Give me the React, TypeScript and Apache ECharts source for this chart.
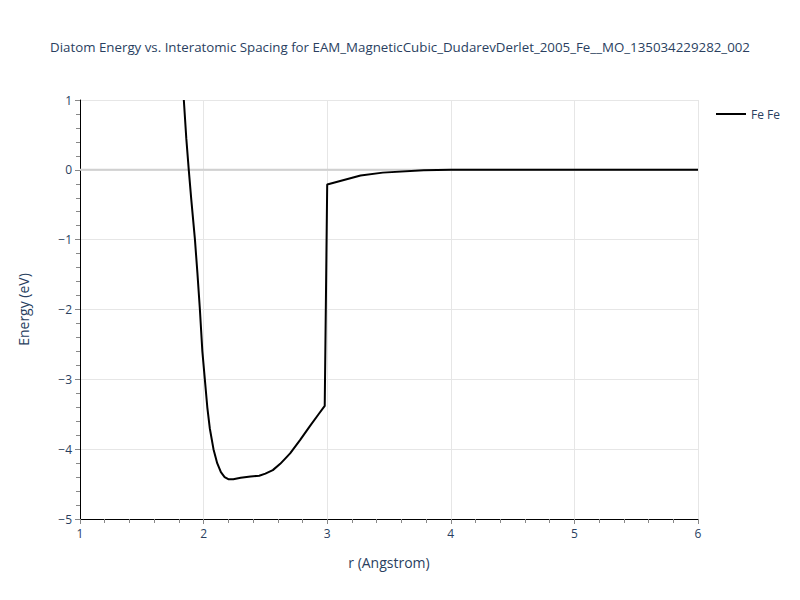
import { useEffect, useRef } from 'react'
import * as echarts from 'echarts'

// r (Angstrom) and energy (eV)
const rValues = [
  1.84, 1.86, 1.88, 1.9, 1.93, 1.95, 1.97, 1.99, 2.01, 2.03, 2.05, 2.08, 2.11, 2.14, 2.17, 2.2,
  2.24, 2.3, 2.38, 2.45, 2.5, 2.56, 2.62, 2.7, 2.78, 2.86, 2.93, 2.98, 3.0, 3.27, 3.45, 3.78,
  4.0, 4.5, 5.0, 5.5, 6.0,
]
const energyValues = [
  1.0, 0.45, 0.0, -0.42, -1.0, -1.48, -2.0, -2.6, -3.0, -3.4, -3.7, -4.0, -4.2, -4.33, -4.4, -4.43,
  -4.43, -4.41, -4.39, -4.38, -4.35, -4.3, -4.21, -4.06, -3.87, -3.67, -3.5, -3.38, -0.21, -0.08,
  -0.04, -0.005, 0, 0, 0, 0, 0,
]
const zeroLine = [
  [1, 0],
  [6, 0],
]

const TITLE =
  'Diatom Energy vs. Interatomic Spacing for EAM_MagneticCubic_DudarevDerlet_2005_Fe__MO_135034229282_002'
const SERIES_NAME = 'Fe Fe'
const FONT = '"Open Sans", "Liberation Sans", sans-serif'
const TEXT_COLOR = '#2a3f5f'

const minus = (v: number) => String(v).replace('-', '\u2212')

export default function App() {
  const ref = useRef<HTMLDivElement>(null)

  useEffect(() => {
    if (!ref.current) {
      return
    }
    const chart = echarts.init(ref.current, undefined, { renderer: 'svg' })
    const axisCommon = {
      nameLocation: 'middle' as const,
      nameTextStyle: { fontFamily: FONT, fontSize: 14, color: TEXT_COLOR },
      axisLine: { show: true, onZero: false, lineStyle: { color: '#000', width: 1 } },
      axisTick: { show: true, length: 5, lineStyle: { color: '#888' } },
      minorTick: { show: true, splitNumber: 5, length: 4, lineStyle: { color: '#888' } },
      axisLabel: { fontFamily: FONT, fontSize: 12, color: TEXT_COLOR, formatter: minus },
      splitLine: { show: true, lineStyle: { color: '#e6e6e6', width: 1 } },
    }

    chart.setOption({
      animation: false,
      title: {
        text: TITLE,
        left: 'center',
        top: 27,
        textStyle: { fontFamily: FONT, fontSize: 13.3, fontWeight: 'normal', color: TEXT_COLOR },
      },
      legend: {
        data: [SERIES_NAME],
        left: 703,
        top: 95,
        orient: 'vertical',
        itemWidth: 30,
        itemHeight: 2,
        itemGap: 6,
        icon: 'rect',
        textStyle: { fontFamily: FONT, fontSize: 12, color: TEXT_COLOR },
      },
      grid: { left: 72, right: 94, top: 92, bottom: 73 },
      xAxis: {
        ...axisCommon,
        type: 'value',
        min: 1,
        max: 6,
        interval: 1,
        name: 'r (Angstrom)',
        nameGap: 36,
        axisLabel: { ...axisCommon.axisLabel, margin: 8 },
      },
      yAxis: {
        ...axisCommon,
        type: 'value',
        min: -5,
        max: 1,
        interval: 1,
        name: 'Energy (eV)',
        nameGap: 50,
      },
      series: [
        {
          type: 'line',
          z: 1,
          silent: true,
          showSymbol: false,
          data: zeroLine,
          lineStyle: { color: '#d0d0d0', width: 2 },
        },
        {
          name: SERIES_NAME,
          type: 'line',
          z: 2,
          showSymbol: false,
          data: rValues.map((r, i) => [r, energyValues[i]]),
          itemStyle: { color: '#000' },
          lineStyle: { color: '#000', width: 2 },
        },
      ],
    })

    return () => {
      chart.dispose()
    }
  }, [])

  return <div ref={ref} style={{ width: 784, height: 584 }} />
}
